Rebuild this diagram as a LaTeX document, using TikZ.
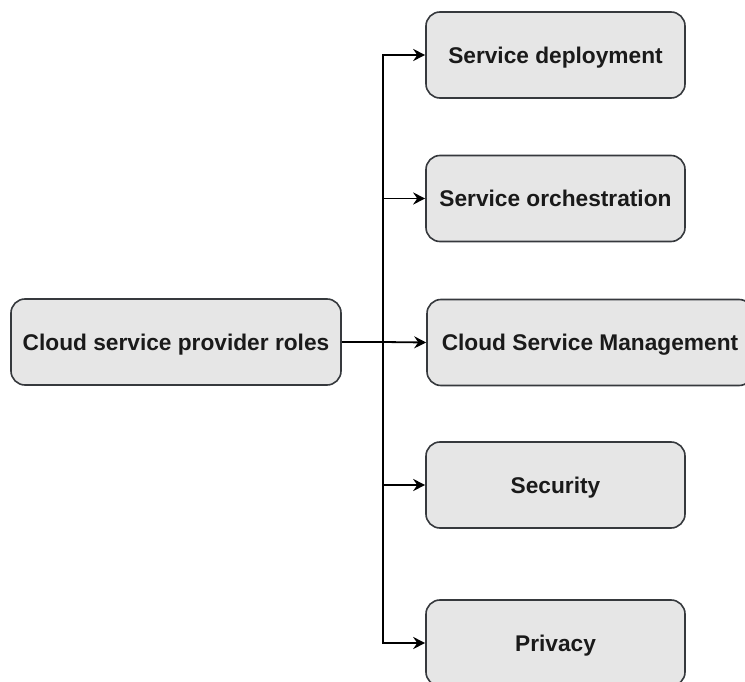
\documentclass[tikz,border=0pt]{standalone}
\usepackage{fontspec}
\setmainfont{Liberation Sans}
\usetikzlibrary{arrows.meta}
\definecolor{boxfill}{HTML}{E6E6E6}
\definecolor{boxline}{HTML}{36393D}
\definecolor{txt}{HTML}{1A1A1A}
\tikzset{
  rolebox/.style={draw=boxline, fill=boxfill, line width=1.6pt, rounded corners=14pt,
    minimum height=86pt, inner sep=0pt, text=txt, text height=16.3pt, text depth=0pt,
    font=\fontsize{22.7}{27}\selectfont\bfseries},
  link/.style={draw=black, line width=1.8pt},
  arr/.style={link, -{Stealth[length=12pt,width=12pt,inset=4pt]}}
}
\begin{document}
\begin{tikzpicture}[x=1pt,y=-1pt]
\useasboundingbox (0,0) rectangle (745,682);
\clip (0,0) rectangle (745,682);
% root of the tree
\node[rolebox, minimum width=330pt] (root) at (176,342) {Cloud service provider roles};
% the five roles
\node[rolebox, minimum width=259pt] (deploy) at (555.5,55) {Service deployment};
\node[rolebox, minimum width=259pt] (orch) at (555.5,198.5) {Service orchestration};
\node[rolebox, minimum width=326pt] (mgmt) at (590,342.5) {Cloud Service Management};
\node[rolebox, minimum width=259pt] (sec) at (555.5,485) {Security};
\node[rolebox, minimum width=259pt] (priv) at (555.5,643) {Privacy};
% branching point of the connectors
\coordinate (fork) at (383,342);
\draw[link] (root.east) -- (fork);
\draw[arr] (fork) -- (mgmt.west);
\draw[arr] (fork) |- (deploy.west);
\draw[arr] (fork) |- (orch.west);
\draw[arr] (fork) |- (sec.west);
\draw[arr] (fork) |- (priv.west);
\end{tikzpicture}
\end{document}
